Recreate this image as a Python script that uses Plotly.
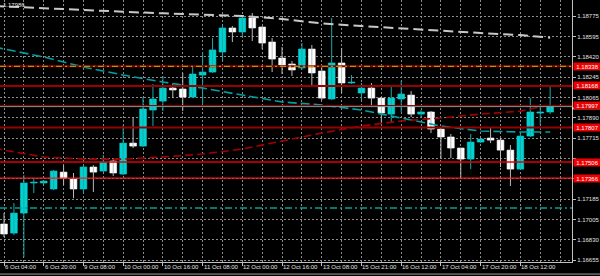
import plotly.graph_objects as go

# ---------------- data ----------------
date_labels = ["6 Oct 04:00", "6 Oct 20:00", "9 Oct 08:00", "10 Oct 00:00", "10 Oct 16:00",
               "11 Oct 08:00", "12 Oct 00:00", "12 Oct 16:00", "13 Oct 08:00", "15 Oct 21:00",
               "16 Oct 12:00", "17 Oct 04:00", "17 Oct 20:00", "18 Oct 12:00"]
label_idx = [0, 4, 8, 12, 16, 20, 24, 28, 32, 36, 40, 44, 48, 52]

open_ = [1.16968, 1.16889, 1.17063, 1.17324, 1.17324, 1.17272, 1.17419, 1.17359, 1.17272, 1.17463,
         1.17428, 1.17515, 1.17402, 1.17671, 1.17645, 1.17958, 1.18036, 1.18149, 1.18141, 1.18071,
         1.18262, 1.18288, 1.18462, 1.18671, 1.18636, 1.18758, 1.18679, 1.18549, 1.18410, 1.18358,
         1.18323, 1.18488, 1.18297, 1.18054, 1.18367, 1.18193, 1.18106, 1.18149, 1.18062, 1.17923,
         1.18054, 1.18088, 1.17923, 1.17941, 1.17793, 1.17724, 1.17628, 1.17532, 1.17680, 1.17715,
         1.17697, 1.17610, 1.17445, 1.17732, 1.17932, 1.17941]
high = [1.17063, 1.17150, 1.17393, 1.17367, 1.17350, 1.17437, 1.17480, 1.17411, 1.17480, 1.17480,
        1.17567, 1.17532, 1.17828, 1.17897, 1.18071, 1.18184, 1.18254, 1.18184, 1.18280, 1.18341,
        1.18462, 1.18584, 1.18697, 1.18688, 1.18784, 1.18801, 1.18688, 1.18584, 1.18506, 1.18384,
        1.18540, 1.18523, 1.18349, 1.18758, 1.18497, 1.18262, 1.18193, 1.18193, 1.18071, 1.18167,
        1.18210, 1.18123, 1.17958, 1.17949, 1.17810, 1.17750, 1.17628, 1.17750, 1.17706, 1.17802,
        1.17715, 1.17654, 1.17767, 1.18062, 1.18010, 1.18167]
low = [1.16855, 1.16872, 1.16681, 1.17237, 1.17315, 1.17263, 1.17306, 1.17193, 1.17237, 1.17246,
       1.17419, 1.17385, 1.17393, 1.17628, 1.17637, 1.17819, 1.17949, 1.18062, 1.17949, 1.18062,
       1.18010, 1.18280, 1.18393, 1.18549, 1.18593, 1.18558, 1.18488, 1.18288, 1.18271, 1.18254,
       1.18306, 1.18158, 1.18045, 1.18045, 1.18106, 1.18184, 1.18045, 1.17984, 1.17845, 1.17845,
       1.17941, 1.17897, 1.17897, 1.17758, 1.17541, 1.17541, 1.17367, 1.17445, 1.17671, 1.17671,
       1.17463, 1.17298, 1.17445, 1.17724, 1.17828, 1.17923]
close = [1.16881, 1.17063, 1.17324, 1.17332, 1.17341, 1.17428, 1.17367, 1.17272, 1.17463, 1.17419,
         1.17506, 1.17411, 1.17671, 1.17645, 1.17967, 1.18054, 1.18149, 1.18132, 1.18071, 1.18271,
         1.18288, 1.18480, 1.18671, 1.18636, 1.18758, 1.18671, 1.18540, 1.18401, 1.18349, 1.18306,
         1.18488, 1.18280, 1.18062, 1.18367, 1.18193, 1.18201, 1.18149, 1.18062, 1.17932, 1.18062,
         1.18097, 1.17923, 1.17941, 1.17793, 1.17724, 1.17628, 1.17532, 1.17680, 1.17706, 1.17697,
         1.17610, 1.17445, 1.17732, 1.17941, 1.17941, 1.17997]

# moving averages sampled at candle indices
ma_idx = [-1, 0, 4, 8, 12, 16, 20, 24, 28, 32, 36, 40, 44, 48, 52, 55]
gray_ma = [1.18862, 1.18858, 1.18845, 1.18823, 1.18812, 1.18798, 1.18784, 1.18775, 1.18749, 1.18710,
           1.18688, 1.18666, 1.18645, 1.18627, 1.18610, 1.18586]
teal_ma = [1.18506, 1.18488, 1.18419, 1.18332, 1.18262, 1.18201, 1.18149, 1.18088, 1.18028, 1.18002,
           1.17958, 1.17889, 1.17819, 1.17776, 1.17767, 1.17767]
red_ma = [1.17628, 1.17610, 1.17550, 1.17532, 1.17532, 1.17550, 1.17576, 1.17619, 1.17689, 1.17758,
          1.17819, 1.17863, 1.17889, 1.17923, 1.17949, 1.18002]

# horizontal levels
level_prices = [1.18338, 1.18168, 1.17997, 1.17807, 1.17506, 1.17366]
level_labels = ["1.18338", "1.18168", "1.17997", "1.17807", "1.17506", "1.17366"]
teal_level = 1.17107

# price grid (labels at 1.17540 / 1.17360 are hidden behind the level boxes)
y_ticks = [1.18775, 1.18595, 1.18420, 1.18245, 1.18065, 1.17890, 1.17715, 1.17540, 1.17360,
           1.17185, 1.17005, 1.16830, 1.16655]
y_ticktext = ["1.18775", "1.18595", "1.18420", "1.18245", "1.18065", "1.17890", "1.17715",
              "", "", "1.17185", "1.17005", "1.16830", "1.16655"]
corner_text = "1.17986"

# ---------------- figure ----------------
idx = list(range(len(open_)))
bull = [i for i in idx if close[i] >= open_[i]]
bear = [i for i in idx if close[i] < open_[i]]

def wicks(ids):
    xs, ys = [], []
    for i in ids:
        xs += [i, i, None]
        ys += [low[i], high[i], None]
    return xs, ys

fig = go.Figure()
wx, wy = wicks(bull)
fig.add_trace(go.Scatter(x=wx, y=wy, mode="lines", line=dict(color="#1aa8a8", width=1), hoverinfo="skip"))
wx, wy = wicks(bear)
fig.add_trace(go.Scatter(x=wx, y=wy, mode="lines", line=dict(color="#b8b8b8", width=1), hoverinfo="skip"))

fig.add_trace(go.Bar(x=bull, y=[close[i] - open_[i] for i in bull], base=[open_[i] for i in bull],
                     width=0.68, marker=dict(color="#00d2d2", line=dict(color="#00d2d2", width=0.6))))
fig.add_trace(go.Bar(x=bear, y=[open_[i] - close[i] for i in bear], base=[close[i] for i in bear],
                     width=0.68, marker=dict(color="#ffffff", line=dict(color="#ffffff", width=0.6))))

fig.add_trace(go.Scatter(x=ma_idx, y=gray_ma, mode="lines",
                         line=dict(color="#c8c8c8", width=2, dash="10px,5px")))
fig.add_trace(go.Scatter(x=ma_idx, y=teal_ma, mode="lines",
                         line=dict(color="#00a0a0", width=1.6, dash="9px,4px")))
fig.add_trace(go.Scatter(x=ma_idx, y=red_ma, mode="lines",
                         line=dict(color="#a00000", width=1.6, dash="8px,4px")))

level_styles = [("#8b0000", 2), ("#990000", 2), ("#8b0000", 1), ("#990000", 2), ("#e00000", 1.5), ("#ff1a1a", 1.2)]
shapes = []
for p, (c, w) in zip(level_prices, level_styles):
    shapes.append(dict(type="line", xref="paper", x0=0, x1=1, yref="y", y0=p, y1=p,
                       line=dict(color=c, width=w), layer="above"))
shapes.append(dict(type="line", xref="paper", x0=0, x1=1, yref="y", y0=level_prices[0], y1=level_prices[0],
                   line=dict(color="#c8b400", width=1, dash="6px,3px,2px,3px"), layer="above"))
shapes.append(dict(type="line", xref="paper", x0=0, x1=1, yref="y", y0=1.17988, y1=1.17988,
                   line=dict(color="#909090", width=1), layer="above"))
shapes.append(dict(type="line", xref="paper", x0=0, x1=1, yref="y", y0=teal_level, y1=teal_level,
                   line=dict(color="#00a0a0", width=1.5, dash="7px,3px,2px,3px"), layer="above"))
shapes.append(dict(type="rect", xref="paper", x0=1.0, x1=1.05, yref="y", y0=1.17965, y1=1.17980,
                   line=dict(width=0), fillcolor="#ffffff", layer="above"))
shapes.append(dict(type="line", xref="paper", x0=0, x1=1.05, yref="paper", y0=-0.046, y1=-0.046,
                   line=dict(color="#a0a0a0", width=1), layer="above"))

annotations = []
for i, t in zip(label_idx, date_labels):
    annotations.append(dict(x=i, xref="x", y=0, yref="paper", yanchor="top", xanchor="left",
                            text=t, showarrow=False, xshift=0, yshift=-1,
                            font=dict(size=6, color="#e0e0e0", family="Liberation Sans"), borderpad=0))
for p, t in zip(level_prices, level_labels):
    annotations.append(dict(x=1, xref="paper", xanchor="left", y=p, yref="y", yanchor="middle",
                            text=t, showarrow=False, xshift=1, bgcolor="#ee0000", width=27, height=7,
                            borderpad=0, font=dict(size=6, color="#ffffff", family="Liberation Sans")))
annotations.append(dict(x=0, xref="paper", xanchor="left", y=1, yref="paper", yanchor="top",
                        text=corner_text, showarrow=False, xshift=2, yshift=-1, borderpad=0,
                        font=dict(size=6, color="#e0e0e0", family="Liberation Sans")))

grid_col = "#8c8c8c"
fig.update_layout(
    width=600, height=276, margin=dict(l=0, r=28, t=0, b=14),
    paper_bgcolor="#000000", plot_bgcolor="#000000", showlegend=False, barmode="overlay",
    font=dict(family="Liberation Sans", size=6, color="#e0e0e0"),
    shapes=shapes, annotations=annotations,
    xaxis=dict(range=[-0.403, 57.2], tickmode="array", tickvals=label_idx, showticklabels=False,
               ticks="outside", ticklen=3, tickcolor="#c0c0c0",
               showgrid=True, gridcolor=grid_col, griddash="2px,2px", gridwidth=1,
               minor=dict(tickvals=[i + 2 for i in label_idx] + [56], showgrid=True,
                          gridcolor=grid_col, griddash="2px,2px", ticks=""),
               showline=True, linecolor="#c0c0c0", zeroline=False),
    yaxis=dict(range=[1.16638, 1.18914], side="right", tickmode="array", tickvals=y_ticks,
               ticktext=y_ticktext, ticks="outside", ticklen=3, tickcolor="#c0c0c0",
               tickfont=dict(size=6, color="#e0e0e0"),
               showgrid=True, gridcolor=grid_col, griddash="2px,2px", gridwidth=1,
               showline=True, linecolor="#c0c0c0", zeroline=False),
)

fig.write_html("out.html")
